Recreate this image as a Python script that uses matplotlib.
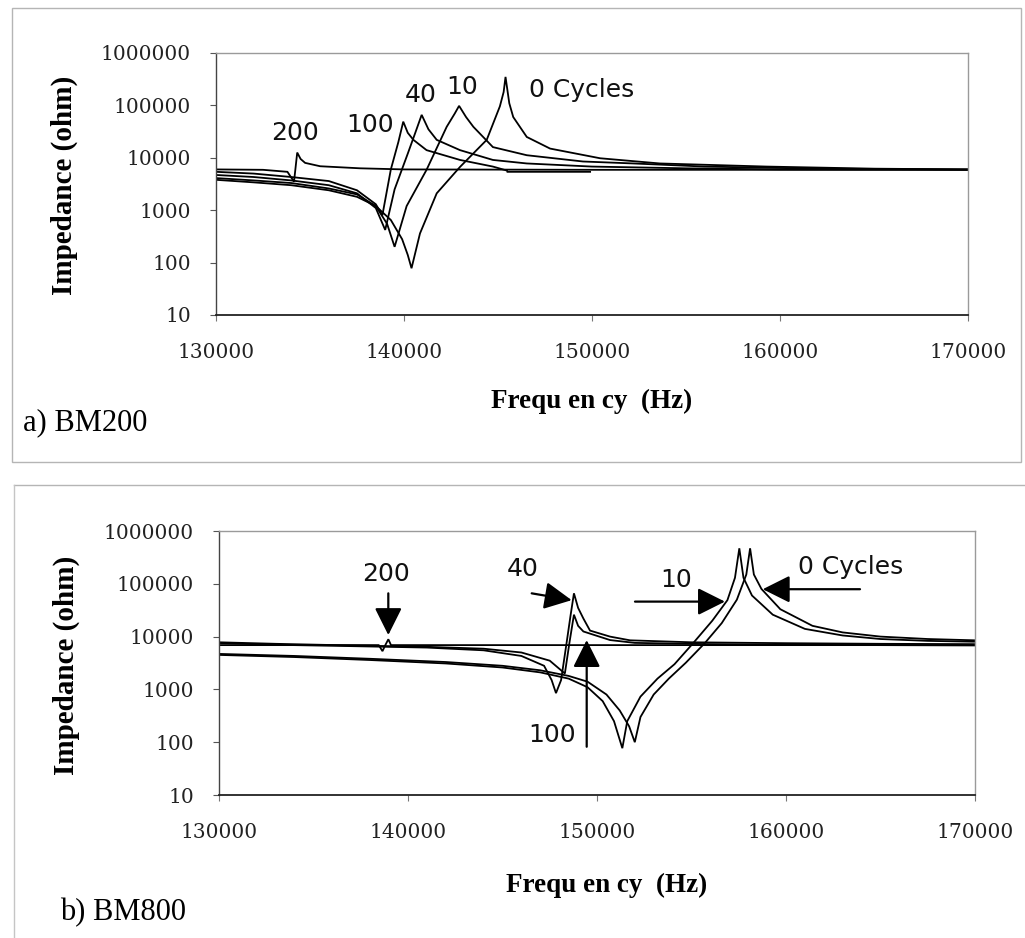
import matplotlib
matplotlib.use("Agg")
import matplotlib.pyplot as plt
from matplotlib.patches import Rectangle
from matplotlib.lines import Line2D

# ---- axis ticks ----
freq_ticks = [130000, 140000, 150000, 160000, 170000]
freq_tick_labels = ["130000", "140000", "150000", "160000", "170000"]
imp_ticks = [10, 100, 1000, 10000, 100000, 1000000]
imp_tick_labels = ["10", "100", "1000", "10000", "100000", "1000000"]

# ---- a) BM200 : impedance spectra after N loading cycles ----
a_f_0 = [130000, 132000, 134000, 136000, 137500, 138500, 139300, 139900, 140200,
         140400, 140850, 141740, 142980, 144400, 145100, 145300, 145400, 145600,
         145810, 146530, 147770, 150430, 153600, 159300, 165000, 170000]
a_z_0 = [3800, 3400, 3000, 2400, 1800, 1200, 650, 280, 140,
         78, 360, 2100, 6700, 22000, 96000, 180000, 350000, 110000,
         60000, 25000, 15000, 9800, 7800, 6800, 6200, 6000]

a_f_10 = [130000, 132000, 134000, 136000, 137500, 138500, 139100, 139500, 140140,
          141200, 142270, 142700, 142930, 143300, 143690, 144730, 146530, 149520,
          152200, 156000, 162000, 170000]
a_z_10 = [4100, 3700, 3300, 2600, 2000, 1200, 550, 200, 1200,
          5900, 39000, 70000, 98000, 60000, 39000, 16000, 11200, 8500,
          7800, 6800, 6200, 6000]

a_f_40 = [130000, 132000, 134000, 136000, 137500, 138500, 139000, 139500, 140200,
          140600, 140940, 141300, 141740, 142980, 144730, 146530, 150000, 155000,
          160000, 170000]
a_z_40 = [4700, 4300, 3700, 3000, 2100, 1100, 420, 2500, 12000,
          30000, 66000, 35000, 22000, 14000, 9100, 7800, 6800, 6300,
          6000, 5900]

a_f_100 = [130000, 132000, 134000, 136000, 137500, 138500, 138850, 139300, 139700,
           139960, 140200, 140500, 141200, 142980, 144730, 145480, 145500, 149900]
a_z_100 = [5400, 5000, 4300, 3600, 2400, 1300, 800, 6000, 20000,
           49000, 30000, 22000, 14000, 9100, 6800, 5700, 5400, 5400]

a_f_200 = [130000, 132500, 133800, 134150, 134320, 134500, 134740, 135540, 137670,
           140000, 150000, 160000, 170000]
a_z_200 = [6000, 5900, 5400, 3500, 12600, 9500, 8000, 6900, 6300,
           6000, 5900, 5900, 5900]

# ---- b) BM800 ----
b_f_0 = [130000, 134000, 138000, 142000, 145000, 147000, 148500, 149500, 150500,
         151200, 151700, 152000, 152300, 153000, 153800, 154700, 155700, 156600,
         157400, 157900, 158100, 158300, 158700, 159700, 161400, 163000, 165000,
         167500, 170000]
b_z_0 = [4700, 4300, 3800, 3300, 2800, 2300, 1800, 1400, 800,
         400, 200, 100, 300, 800, 1600, 3200, 7500, 18000,
         50000, 150000, 470000, 150000, 80000, 33000, 16000, 12000, 10000,
         9000, 8500]

b_f_10 = [130000, 134000, 138000, 142000, 145000, 147000, 148500, 149500, 150300,
          150900, 151340, 151600, 152300, 153200, 154100, 155100, 156100, 156900,
          157300, 157530, 157750, 158200, 159300, 161000, 163000, 165000, 167500,
          170000]
b_z_10 = [4500, 4100, 3600, 3100, 2600, 2100, 1600, 1100, 600,
          250, 77, 250, 730, 1600, 3000, 7600, 20000, 49000,
          130000, 470000, 130000, 60000, 26000, 14000, 10500, 9000, 8300,
          8000]

b_f_40 = [130000, 133000, 137000, 141000, 144000, 146000, 147200, 147600, 147830,
          148100, 148400, 148600, 148780, 149000, 149280, 149630, 150690, 151750,
          155000, 160000, 165000, 170000]
b_z_40 = [7500, 7000, 6600, 6200, 5500, 4300, 2800, 1500, 850,
          1500, 8000, 25000, 66000, 35000, 22000, 13000, 10000, 8500,
          7800, 7500, 7300, 7200]

b_f_100 = [130000, 133000, 137000, 141000, 144000, 146000, 147500, 148300, 148550,
           148780, 149000, 149280, 150690, 152000, 156000, 160000, 170000]
b_z_100 = [7800, 7300, 6800, 6400, 5900, 5000, 3500, 2000, 8000,
           26000, 16000, 12500, 8600, 7600, 7200, 7000, 6800]

b_f_200 = [130000, 134000, 138450, 138650, 138800, 138960, 139100, 145000, 150000,
           160000, 170000]
b_z_200 = [6900, 6900, 6900, 5300, 6900, 8900, 6900, 6900, 6900,
           6900, 6900]

FIG_W, FIG_H = 1025, 938
fig = plt.figure(figsize=(FIG_W / 100, FIG_H / 100), dpi=100)
fig.patch.set_facecolor("white")

SERIF = ["DejaVu Serif"]
TIMES = ["Liberation Serif", "DejaVu Serif"]
SANS = ["DejaVu Sans"]


def fx(px):
    return px / FIG_W


def fy(py):
    return 1 - py / FIG_H


def setup_axes(left, right, top, bottom):
    ax = fig.add_axes([fx(left), fy(bottom), fx(right) - fx(left), fy(top) - fy(bottom)])
    ax.set_yscale("log")
    ax.set_xlim(freq_ticks[0], freq_ticks[-1])
    ax.set_ylim(imp_ticks[0], imp_ticks[-1])
    ax.set_xticks(freq_ticks)
    ax.set_xticklabels(freq_tick_labels, fontfamily=SERIF, fontsize=14.5, color="#222222")
    ax.set_yticks(imp_ticks)
    ax.set_yticklabels(imp_tick_labels, fontfamily=SERIF, fontsize=14.5, color="#222222")
    ax.minorticks_off()
    ax.tick_params(axis="x", direction="out", length=4, width=0.8, pad=16, color="#777777")
    ax.tick_params(axis="y", direction="out", length=4, width=0.8, pad=14, color="#555555")
    for side in ("top", "right"):
        ax.spines[side].set_color("#9a9a9a")
        ax.spines[side].set_linewidth(1.0)
    ax.spines["left"].set_color("#444444")
    ax.spines["bottom"].set_color("#222222")
    ax.spines["left"].set_linewidth(1.0)
    ax.spines["bottom"].set_linewidth(1.3)
    return ax


def draw_curves(ax, series):
    for f, z in series:
        ax.plot(f, z, color="black", lw=1.3, solid_joinstyle="miter")


# ---- panel frames ----
fig.add_artist(Rectangle((fx(12), fy(462)), fx(1021) - fx(12), fy(8) - fy(462),
                         transform=fig.transFigure, fill=False, ec="#b5b5b5", lw=1.0))
fig.add_artist(Line2D([fx(14), fx(1025)], [fy(485), fy(485)], transform=fig.transFigure,
                      color="#b5b5b5", lw=1.0))
fig.add_artist(Line2D([fx(14), fx(14)], [fy(485), fy(938)], transform=fig.transFigure,
                      color="#c5c5c5", lw=1.0))

# ---- a) BM200 ----
ax_a = setup_axes(216, 968, 53, 315)
draw_curves(ax_a, [(a_f_200, a_z_200), (a_f_100, a_z_100), (a_f_40, a_z_40),
                   (a_f_10, a_z_10), (a_f_0, a_z_0)])
lab = dict(fontfamily=SANS, fontsize=18, ha="center", va="center", color="#111111")
ax_a.text(134207, 29600, "200", **lab)
ax_a.text(138200, 42700, "100", **lab)
ax_a.text(140900, 158000, "40", **lab)
ax_a.text(143115, 228000, "10", **lab)
ax_a.text(149470, 197000, "0 Cycles", **lab)

fig.text(fx(592), fy(401), "Frequ en cy  (Hz)", fontfamily=TIMES, fontweight="bold",
         fontsize=19.5, ha="center", va="center")
fig.text(fx(64), fy(185), "Impedance (ohm)", fontfamily=TIMES, fontweight="bold",
         fontsize=21, rotation=90, ha="center", va="center")
fig.text(fx(23), fy(423), "a) BM200", fontfamily=TIMES, fontsize=22,
         ha="left", va="center")

# ---- b) BM800 ----
ax_b = setup_axes(219, 975, 531, 795)
draw_curves(ax_b, [(b_f_200, b_z_200), (b_f_100, b_z_100), (b_f_40, b_z_40),
                   (b_f_10, b_z_10), (b_f_0, b_z_0)])

arrow = dict(arrowstyle="-|>,head_length=0.8,head_width=0.4", color="black",
             lw=1.6, mutation_scale=21, shrinkA=0, shrinkB=0)
ax_b.text(138815, 153000, "200", **lab)
ax_b.annotate("", xy=(138958, 10700), xytext=(138958, 66000), arrowprops=arrow)
ax_b.text(146085, 190000, "40", **lab)
ax_b.annotate("", xy=(148660, 49000), xytext=(146545, 66000), arrowprops=arrow)
ax_b.text(154180, 117000, "10", **lab)
ax_b.annotate("", xy=(156770, 46000), xytext=(152010, 46000), arrowprops=arrow)
ax_b.text(163440, 210000, "0 Cycles", **lab)
ax_b.annotate("", xy=(158770, 79000), xytext=(163915, 79000), arrowprops=arrow)
ax_b.text(147620, 138, "100", **lab)
ax_b.annotate("", xy=(149455, 8600), xytext=(149455, 82), arrowprops=arrow)

fig.text(fx(607), fy(885), "Frequ en cy  (Hz)", fontfamily=TIMES, fontweight="bold",
         fontsize=19.5, ha="center", va="center")
fig.text(fx(66), fy(665), "Impedance (ohm)", fontfamily=TIMES, fontweight="bold",
         fontsize=21, rotation=90, ha="center", va="center")
fig.text(fx(60), fy(913), "b) BM800", fontfamily=TIMES, fontsize=22,
         ha="left", va="center")

fig.savefig("out.png", dpi=100, facecolor="white")
